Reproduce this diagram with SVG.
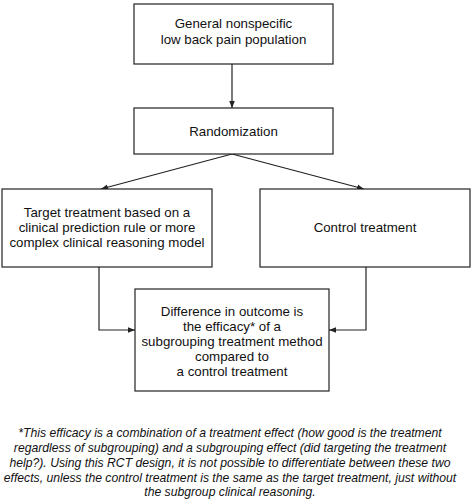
<svg xmlns="http://www.w3.org/2000/svg" width="473" height="500" viewBox="0 0 473 500">
<style>
.box{fill:#fff;stroke:#222;stroke-width:1.2}
.t{font-family:"Liberation Sans",Arial,sans-serif;font-size:13.3px;fill:#111;text-anchor:middle}
.fn{font-family:"Liberation Sans",Arial,sans-serif;font-size:12.2px;font-style:italic;fill:#111;text-anchor:middle}
.c{fill:none;stroke:#222;stroke-width:1.2}
</style>
<defs>
<marker id="ah" viewBox="0 0 10 10" refX="10" refY="5" markerWidth="7" markerHeight="7" markerUnits="userSpaceOnUse" orient="auto">
<path d="M0,1 L10,5 L0,9 Z" fill="#222"/>
</marker>
</defs>
<rect width="473" height="500" fill="#fff"/>
<g id="connectors">
<line class="c" x1="232" y1="64" x2="232" y2="108" marker-end="url(#ah)"/>
<line class="c" x1="232" y1="154" x2="101" y2="189" marker-end="url(#ah)"/>
<line class="c" x1="232" y1="154" x2="364" y2="189" marker-end="url(#ah)"/>
<polyline class="c" points="99,267 99,330 135,330" marker-end="url(#ah)"/>
<polyline class="c" points="366,267 366,330 329,330" marker-end="url(#ah)"/>
</g>
<g id="population">
<rect class="box" x="134" y="4" width="199" height="60"/>
<text class="t" x="233.5" y="28">General nonspecific</text>
<text class="t" x="233.5" y="44">low back pain population</text>
</g>
<g id="randomization">
<rect class="box" x="134" y="108" width="199" height="46"/>
<text class="t" x="233.5" y="136">Randomization</text>
</g>
<g id="target">
<rect class="box" x="2" y="189" width="210" height="78"/>
<text class="t" x="107" y="217">Target treatment based on a</text>
<text class="t" x="107" y="232">clinical prediction rule or more</text>
<text class="t" x="107" y="247">complex clinical reasoning model</text>
</g>
<g id="control">
<rect class="box" x="260" y="189" width="210" height="78"/>
<text class="t" x="365" y="232">Control treatment</text>
</g>
<g id="difference">
<rect class="box" x="135" y="289" width="194" height="102"/>
<text class="t" x="232" y="316">Difference in outcome is</text>
<text class="t" x="232" y="331">the efficacy* of a</text>
<text class="t" x="232" y="346">subgrouping treatment method</text>
<text class="t" x="232" y="361">compared to</text>
<text class="t" x="232" y="376">a control treatment</text>
</g>
<g id="footnote">
<text class="fn" x="230" y="437">*This efficacy is a combination of a treatment effect (how good is the treatment</text>
<text class="fn" x="230" y="452">regardless of subgrouping) and a subgrouping effect (did targeting the treatment</text>
<text class="fn" x="230" y="467">help?). Using this RCT design, it is not possible to differentiate between these two</text>
<text class="fn" x="230" y="482">effects, unless the control treatment is the same as the target treatment, just without</text>
<text class="fn" x="230" y="496">the subgroup clinical reasoning.</text>
</g>
</svg>
